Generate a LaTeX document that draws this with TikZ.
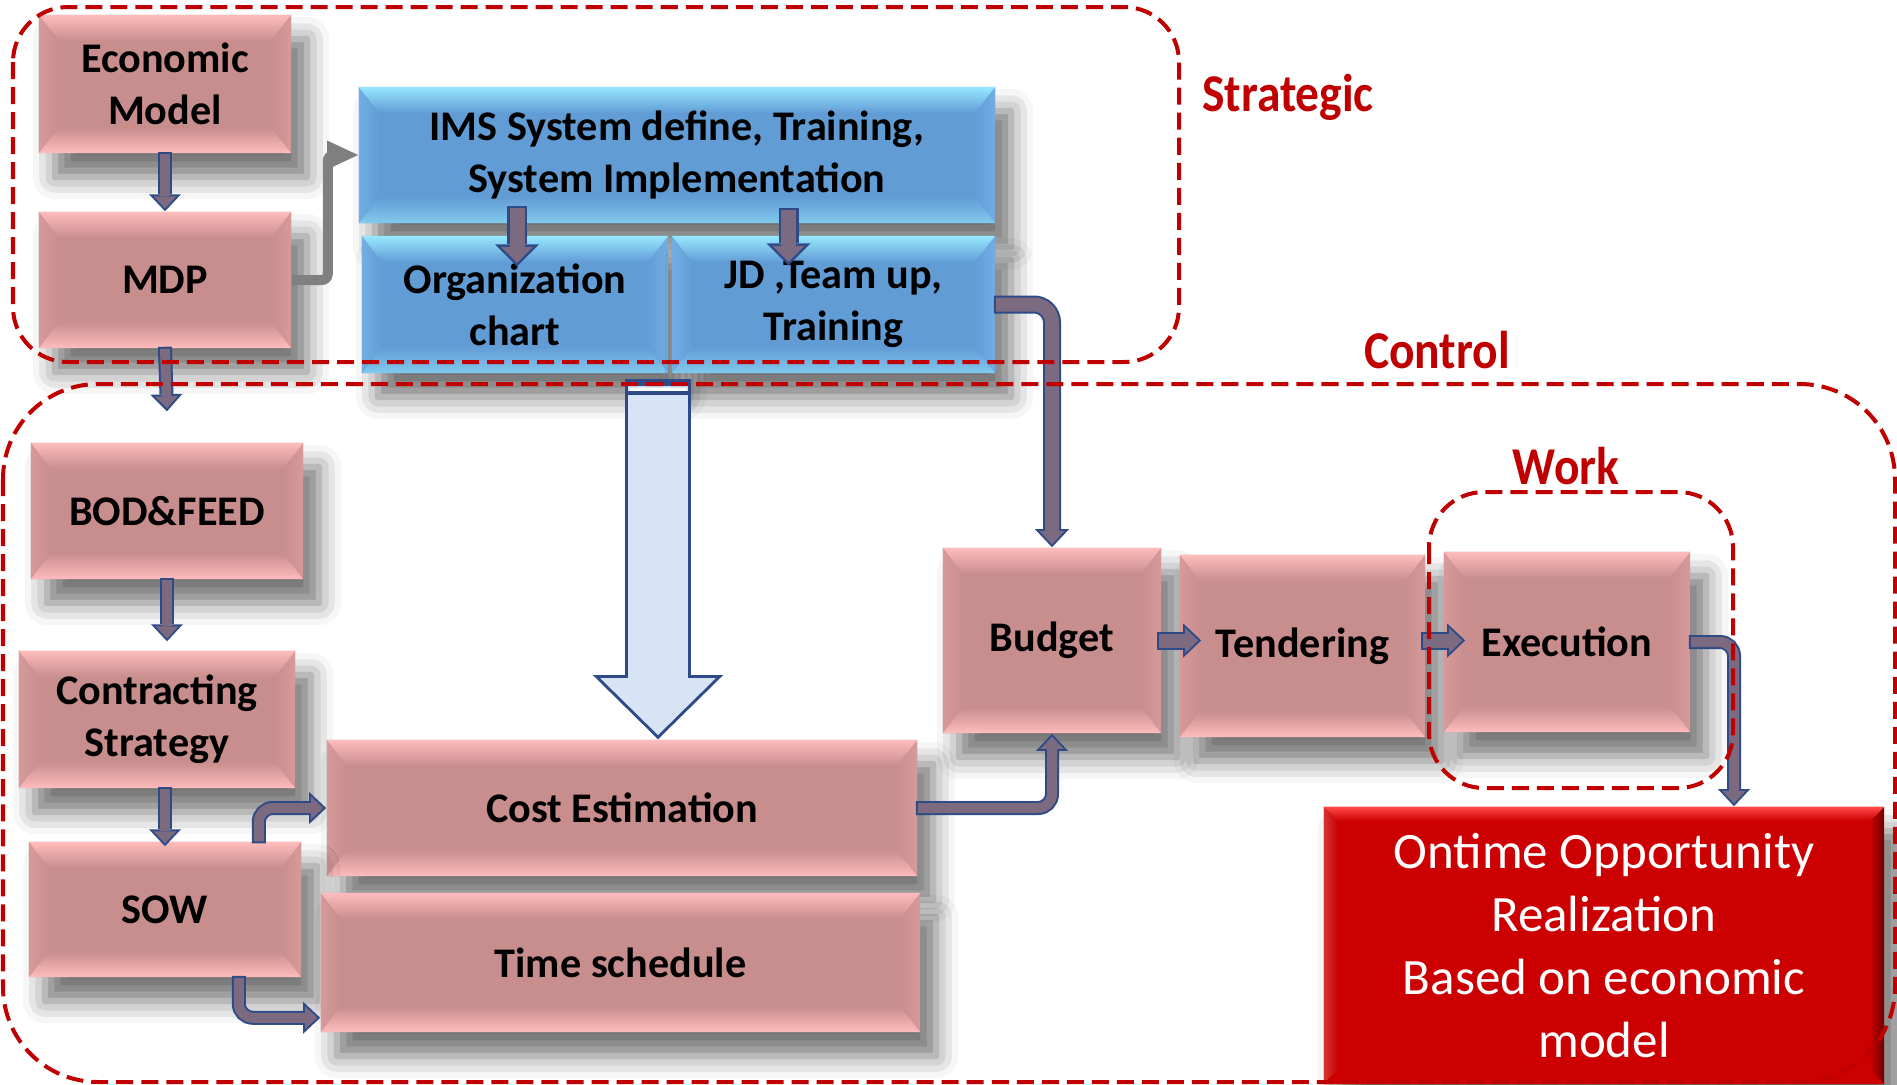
\documentclass[tikz,border=0pt]{standalone}
\usepackage{fontspec}
\setmainfont{Carlito}
\usetikzlibrary{arrows.meta,calc,shadows.blur}

\definecolor{boxpink}{RGB}{200,141,141}
\definecolor{pinklight}{RGB}{255,188,188}
\definecolor{pinkside}{RGB}{214,154,154}
\definecolor{boxblue}{RGB}{98,156,213}
\definecolor{bluelight}{RGB}{150,232,255}
\definecolor{blueside}{RGB}{114,174,228}
\definecolor{boxred}{RGB}{204,0,0}
\definecolor{redlight}{RGB}{255,70,70}
\definecolor{reddark}{RGB}{105,0,0}
\definecolor{framered}{RGB}{192,0,0}
\definecolor{arrfill}{RGB}{124,106,128}
\definecolor{arrline}{RGB}{47,75,135}
\definecolor{bigfill}{RGB}{214,228,245}
\definecolor{arrgray}{RGB}{128,128,128}

\tikzset{
  bev x/.store in=\bevx, bev y/.store in=\bevy, bev x=20, bev y=26,
  bevel/.style n args={5}{fill=#1, path picture={
    \coordinate (nw) at (path picture bounding box.north west);
    \coordinate (ne) at (path picture bounding box.north east);
    \coordinate (sw) at (path picture bounding box.south west);
    \coordinate (se) at (path picture bounding box.south east);
    \fill[left color=#4, right color=#1] (nw) -- ($(nw)+(\bevx,-\bevy)$) -- ($(sw)+(\bevx,\bevy)$) -- (sw) -- cycle;
    \fill[left color=#1, right color=#5] (ne) -- ($(ne)+(-\bevx,-\bevy)$) -- ($(se)+(-\bevx,\bevy)$) -- (se) -- cycle;
    \fill[top color=#2, bottom color=#1] (nw) -- (ne) -- ($(ne)+(-\bevx,-\bevy)$) -- ($(nw)+(\bevx,-\bevy)$) -- cycle;
    \fill[top color=#1, bottom color=#3] (sw) -- (se) -- ($(se)+(-\bevx,\bevy)$) -- ($(sw)+(\bevx,\bevy)$) -- cycle;
  }},
  boxshadow/.style={blur shadow={shadow xshift=0.16cm, shadow yshift=-0.24cm, shadow blur radius=0.22cm, shadow opacity=55}},
  pinkbox/.style={bevel={boxpink}{pinklight}{pinklight}{pinkside}{pinkside}, boxshadow, inner sep=0, align=center, font=\bfseries\fontsize{12}{14.7}\selectfont},
  bluebox/.style={bevel={boxblue}{bluelight}{bluelight!60!boxblue}{blueside}{blueside}, boxshadow, inner sep=0, align=center, font=\bfseries\fontsize{12}{14.7}\selectfont},
  redbox/.style={bev x=14, bev y=14, bevel={boxred}{redlight}{boxred}{boxred!80!white}{reddark}, boxshadow, inner sep=0, align=center, text=white, font=\fontsize{14.5}{17.9}\selectfont},
  arr/.style={draw=arrfill, line width=0.10cm, rounded corners=0.14cm, shorten >=0.029cm, -{Triangle[length=0.121cm, width=0.228cm, line width=0pt]},
    preaction={draw=arrline, line width=0.14cm, shorten >=0pt, shorten <=-0.02cm, -{Triangle[length=0.17cm, width=0.32cm, line width=0pt]}}},
  arrmid/.style={draw=arrfill, line width=0.14cm, rounded corners=0.18cm, shorten >=0.029cm, -{Triangle[length=0.131cm, width=0.247cm, line width=0pt]},
    preaction={draw=arrline, line width=0.18cm, shorten >=0pt, shorten <=-0.02cm, -{Triangle[length=0.18cm, width=0.34cm, line width=0pt]}}},
  arrbig/.style={draw=arrfill, line width=0.15cm, shorten >=0.035cm, -{Triangle[length=0.16cm, width=0.32cm, line width=0pt]},
    preaction={draw=arrline, line width=0.20cm, shorten >=0pt, shorten <=-0.025cm, -{Triangle[length=0.22cm, width=0.44cm, line width=0pt]}}},
  bigarr/.style={draw=bigfill, line width=0.60cm, shorten >=0.042cm, -{Triangle[length=0.568cm, width=1.154cm, line width=0pt]},
    preaction={draw=arrline, line width=0.66cm, shorten >=0pt, shorten <=-0.03cm, -{Triangle[length=0.64cm, width=1.30cm, line width=0pt]}}},
  grayarr/.style={draw=arrgray, line width=0.10cm, rounded corners=0.06cm, -{Triangle[length=0.31cm, width=0.29cm, line width=0pt]}},
  frame/.style={draw=framered, line width=0.04cm, dash pattern=on 0.17cm off 0.08cm},
  lbl/.style={text=framered, font=\bfseries\fontsize{13.5}{16}\selectfont}
}

\begin{document}
\begin{tikzpicture}[x=0.01cm, y=0.01cm]

	\useasboundingbox (0,0) rectangle (1897,-1084);

	% strategic boxes
	\node[pinkbox, minimum width=2.52cm, minimum height=1.38cm] (econ) at (165,-84) {Economic\\Model};
	\node[pinkbox, minimum width=2.52cm, minimum height=1.36cm] (mdp) at (165,-280) {MDP};
	\node[bluebox, minimum width=6.36cm, minimum height=1.36cm] (ims) at (677,-155) {IMS System define, Training,\\System Implementation};
	\node[bluebox, minimum width=3.06cm, minimum height=1.37cm] (org) at (515,-304.5) {Organization\\chart};
	\node[bluebox, minimum width=3.23cm, minimum height=1.37cm] (jd) at (833.5,-304.5) {JD ,Team up,\\Training};

	% control boxes
	\node[pinkbox, minimum width=2.72cm, minimum height=1.36cm] (bod) at (167,-511) {BOD\&FEED};
	\node[pinkbox, minimum width=2.76cm, minimum height=1.37cm] (contr) at (157,-719.5) {Contracting\\Strategy};
	\node[pinkbox, minimum width=5.90cm, minimum height=1.36cm] (cost) at (622,-808) {Cost Estimation};
	\node[pinkbox, minimum width=2.72cm, minimum height=1.35cm] (sow) at (165,-909.5) {SOW};
	\node[pinkbox, minimum width=5.99cm, minimum height=1.39cm] (time) at (620.5,-962.5) {Time schedule};
	\node[pinkbox, minimum width=2.18cm, minimum height=1.85cm] (budget) at (1052,-640.5) {Budget};
	\node[pinkbox, minimum width=2.45cm, minimum height=1.82cm] (tender) at (1302.5,-646) {Tendering};
	\node[pinkbox, minimum width=2.46cm, minimum height=1.80cm] (exec) at (1567,-642) {Execution};
	\node[redbox, minimum width=5.60cm, minimum height=2.77cm] (ontime) at (1604,-945.5) {Ontime Opportunity\\Realization\\Based on economic\\model};

	% arrows
	\draw[grayarr] (mdp.east) -- ++(36,0) |- (ims.west);
	\draw[arr] (econ.south) -- (mdp.north);
	\draw[arr] (mdp.south) -- ($(bod.north)+(0,31)$);
	\draw[arr] (bod.south) -- ($(bod.south |- contr.north)+(0,9)$);
	\draw[arr] (sow.north |- contr.south) -- ($(sow.north)+(0,-5)$);
	\draw[arr] ($(sow.north east)+(-43,0)$) |- (cost.west);
	\draw[arr] ($(sow.south east)+(-63,0)$) |- ($(time.south west)+(0,15)$);
	\draw[arrbig] ($(org.north)+(2,27)$) -- ($(org.north)+(2,-31)$);
	\draw[arrbig] ($(jd.north)+(-45,25)$) -- ($(jd.north)+(-45,-30)$);
	\draw[arrmid] (jd.east) -| (budget.north);
	\draw[arr] (cost.east) -| (budget.south);
	\draw[arrmid] ($(budget.east)+(-3,0)$) -- ($(tender.west |- budget.east)+(22,0)$);
	\draw[arrmid] ($(tender.east |- budget.east)+(-3,0)$) -- ($(exec.west |- budget.east)+(22,0)$);
	\draw[arr] (exec.east) -| ($(ontime.north)+(130,0)$);

	% big arrow
	\coordinate (bigtop) at (658,-382);
	\draw[bigarr] (bigtop) -- (bigtop |- cost.north);
	\fill[arrline] ($(bigtop)+(-33,3)$) rectangle ($(bigtop)+(33,-4)$);
	\draw[white, line width=0.03cm] ($(bigtop)+(-28,-7)$) -- ++(56,0);
	\draw[arrline, line width=0.035cm] ($(bigtop)+(-31,-11)$) -- ++(62,0);

	% frames
	\draw[frame, rounded corners=0.55cm] (13,-7) rectangle (1179,-362);
	\draw[frame, rounded corners=0.95cm] (3,-384) rectangle (1895,-1082);
	\draw[frame, rounded corners=0.55cm] (1429,-492) rectangle (1733,-788);

	\node[lbl] (strat) at (1288,-97) {\scalebox{1}[1.12]{Strategic}};
	\node[lbl] (ctrl) at (1437,-350) {\scalebox{1}[1.12]{Control}};
	\node[lbl] (work) at (1566,-466) {\scalebox{1}[1.12]{Work}};

\end{tikzpicture}
\end{document}
